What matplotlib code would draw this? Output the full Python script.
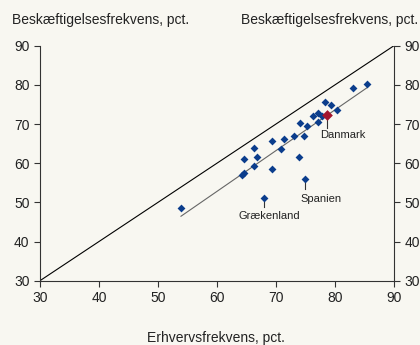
import matplotlib
matplotlib.use('Agg')
import matplotlib.pyplot as plt
import numpy as np

plt.rcParams['font.family'] = ['Liberation Sans', 'DejaVu Sans']

# erhvervsfrekvens (x) og beskaeftigelsesfrekvens (y)
erhverv = [53.9, 64.5, 64.3, 64.6, 66.3, 66.8, 66.3, 67.9, 69.4, 69.4, 70.9,
           71.4, 73.0, 74.0, 73.9, 74.8, 75.0, 75.3, 76.3, 77.1, 77.1, 77.8,
           78.3, 79.3, 80.3, 83.0, 85.5]
beskaeft = [48.5, 61.1, 57.0, 57.4, 64.0, 61.7, 59.4, 51.0, 65.6, 58.5, 63.7,
            66.3, 66.9, 70.3, 61.5, 66.9, 56.0, 69.4, 72.1, 72.7, 70.5, 72.0,
            75.6, 74.9, 73.5, 79.2, 80.1]
dk_x, dk_y = 78.6, 72.2

etiketter = ['Danmark', 'Spanien', 'Grækenland']
etiket_x = [78.6, 75.0, 67.9]
etiket_y = [72.2, 56.0, 51.0]
streg_slut = [69.0, 53.4, 48.9]
tekst_x = [81.4, 77.6, 68.8]
tekst_y = [67.2, 50.9, 46.6]

bg = '#f8f7f1'
blaa = '#0b3d8c'
roed = '#a3142d'

fig = plt.figure(figsize=(4.2, 3.45), dpi=100, facecolor=bg)
ax = fig.add_axes([0.0952, 0.1864, 0.8428, 0.6811], facecolor=bg)

ax.plot([30, 90], [30, 90], color='black', lw=0.8)

alle_x = np.array(erhverv + [dk_x])
alle_y = np.array(beskaeft + [dk_y])
a, b = np.polyfit(alle_x, alle_y, 1)
fx = np.array([alle_x.min(), alle_x.max()])
ax.plot(fx, a * fx + b, color='#666666', lw=0.8)

ax.scatter(erhverv, beskaeft, marker='D', s=16, color=blaa, zorder=3, linewidths=0)
ax.scatter([dk_x], [dk_y], marker='D', s=30, color=roed, zorder=4, linewidths=0)

for navn, px, py, sy, tx, ty in zip(etiketter, etiket_x, etiket_y, streg_slut, tekst_x, tekst_y):
    ax.plot([px, px], [py, sy], color='#333333', lw=0.8, zorder=2)
    ax.text(tx, ty, navn, ha='center', va='center', fontsize=8, color='#222222')

ax.set_xlim(30, 90)
ax.set_ylim(30, 90)
ax.set_xticks(range(30, 91, 10))
ax.set_yticks(range(30, 91, 10))
ax.spines['top'].set_visible(False)
for s in ['left', 'right', 'bottom']:
    ax.spines[s].set_color('#333333')
    ax.spines[s].set_linewidth(0.8)
ax.tick_params(direction='out', length=4, width=0.8, color='#333333',
               labelsize=10, labelcolor='#222222', right=True, labelright=True)

fig.text(0.028, 0.93, 'Beskæftigelsesfrekvens, pct.', fontsize=10, color='#222222')
fig.text(0.573, 0.93, 'Beskæftigelsesfrekvens, pct.', fontsize=10, color='#222222')
fig.text(0.515, 0.01, 'Erhvervsfrekvens, pct.', fontsize=10, color='#222222', ha='center')

fig.savefig('out.png', dpi=100, facecolor=bg)
